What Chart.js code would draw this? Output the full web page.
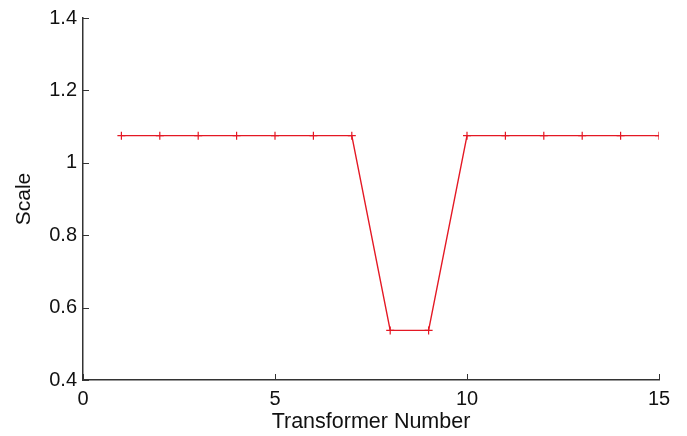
<!DOCTYPE html>
<html><head><meta charset="utf-8">
<script src="https://cdn.jsdelivr.net/npm/chart.js@4/dist/chart.umd.min.js"></script>
<style>html,body{margin:0;padding:0;background:#fff}#wrap{width:687px;height:436px;position:relative}</style>
</head><body><div id="wrap"><canvas id="c"></canvas></div>
<script>
const transformerNumbers = [1,2,3,4,5,6,7,8,9,10,11,12,13,14,15];
const scaleValues = [1.075,1.075,1.075,1.075,1.075,1.075,1.075,0.537,0.537,1.075,1.075,1.075,1.075,1.075,1.075];
const xTicks = [0,5,10,15];
const yTicks = [0.4,0.6,0.8,1,1.2,1.4];

const FONT = 'Liberation Sans, Arial, Helvetica, sans-serif';
const innerTicks = {
  id: 'innerTicks',
  afterDatasetsDraw(chart) {
    const ctx = chart.ctx, x = chart.scales.x, y = chart.scales.y;
    ctx.save();
    ctx.strokeStyle = '#333'; ctx.lineWidth = 1;
    ctx.beginPath();
    xTicks.forEach(v => { const px = Math.round(x.getPixelForValue(v)) + 0.5; ctx.moveTo(px, y.bottom); ctx.lineTo(px, y.bottom - 6); });
    yTicks.forEach(v => { const py = Math.round(y.getPixelForValue(v)) + 0.5; ctx.moveTo(x.left, py); ctx.lineTo(x.left + 6, py); });
    ctx.stroke();
    ctx.restore();
  }
};

new Chart(document.getElementById('c'), {
  type: 'line',
  data: { datasets: [{
    data: transformerNumbers.map((t,i) => ({x: t, y: scaleValues[i]})),
    borderColor: 'rgb(228,24,36)', backgroundColor: 'rgb(228,24,36)',
    borderWidth: 1.4, pointStyle: 'cross', pointRadius: 4, pointBorderWidth: 1.2,
    tension: 0, fill: false
  }]},
  options: {
    responsive: true, maintainAspectRatio: false, animation: false,
    layout: { padding: { top: 16, right: 28, left: 0, bottom: 0 } },
    plugins: { legend: { display: false }, tooltip: { enabled: false } },
    scales: {
      x: {
        type: 'linear', min: 0, max: 15,
        afterBuildTicks: s => { s.ticks = xTicks.map(v => ({value: v})); },
        afterFit: s => { s.height = 56; },
        grid: { display: true, drawOnChartArea: false, drawTicks: false, tickLength: 0 },
        border: { display: true, color: '#333', width: 1.5 },
        ticks: { color: '#111', font: { family: FONT, size: 20 }, padding: 7, maxRotation: 0 },
        title: { display: true, text: 'Transformer Number', color: '#111', font: { family: FONT, size: 21.5 }, padding: { top: 0, bottom: 1 } }
      },
      y: {
        type: 'linear', min: 0.4, max: 1.4,
        afterBuildTicks: s => { s.ticks = yTicks.map(v => ({value: v})); },
        afterFit: s => { s.width = 83; },
        grid: { display: true, drawOnChartArea: false, drawTicks: false, tickLength: 0 },
        border: { display: true, color: '#333', width: 1.5 },
        ticks: { color: '#111', font: { family: FONT, size: 20 }, padding: 6, callback: v => String(v) },
        title: { display: true, text: 'Scale', color: '#111', font: { family: FONT, size: 21 }, padding: { top: 12, bottom: 0 } }
      }
    }
  },
  plugins: [innerTicks]
});
</script></body></html>
